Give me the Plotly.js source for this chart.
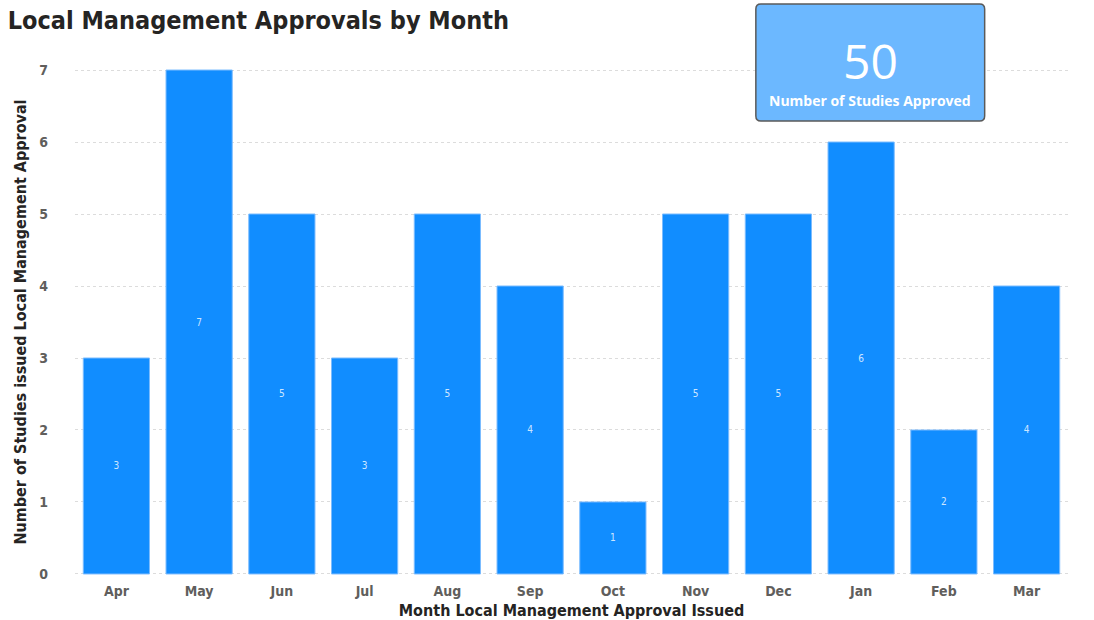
<!DOCTYPE html>
<html>
<head>
<meta charset="utf-8">
<script src="https://cdn.plot.ly/plotly-3.0.1.min.js"></script>
<style>html,body{margin:0;padding:0;background:#fff;}#chart{width:1094px;height:620px;}</style>
</head>
<body>
<div id="chart"></div>
<script>
const months = ["Apr","May","Jun","Jul","Aug","Sep","Oct","Nov","Dec","Jan","Feb","Mar"];
const approvals = [3,7,5,3,5,4,1,5,5,6,2,4];
const chartTitle = "Local Management Approvals by Month";
const xTitle = "Month Local Management Approval Issued";
const yTitle = "Number of Studies issued Local Management Approval";
const cardLabel = "Number of Studies Approved";

const total = approvals.reduce((a,b)=>a+b,0);
const F = "DejaVu Sans Condensed, Liberation Sans Narrow, sans-serif";

// plot area in pixels
const L = 74.6, R = 1068.4, T = 67, B = 577;
const W = R - L, H = B - T;
const px = x => (x - L) / W;
const py = y => (B - y) / H;
const cx0 = 756, cx1 = 985, cy0 = 4, cy1 = 121, r = 5;
function rr(){
  const x0=px(cx0), x1=px(cx1), y0=py(cy1), y1=py(cy0);
  const rx=r/W, ry=r/H;
  return `M ${x0+rx} ${y1} L ${x1-rx} ${y1} Q ${x1} ${y1} ${x1} ${y1-ry} L ${x1} ${y0+ry} Q ${x1} ${y0} ${x1-rx} ${y0} L ${x0+rx} ${y0} Q ${x0} ${y0} ${x0} ${y0+ry} L ${x0} ${y1-ry} Q ${x0} ${y1} ${x0+rx} ${y1} Z`;
}

const trace = {
  type: "bar",
  x: months,
  y: approvals,
  text: approvals.map(String),
  textposition: "inside",
  insidetextanchor: "middle",
  textfont: {color: "rgba(255,255,255,0.8)", size: 10, family: F},
  marker: {color: "#118DFF", line: {color: "#7bbcff", width: 1}},
  hoverinfo: "x+y"
};

const layout = {
  width: 1094, height: 620,
  margin: {l: L, r: 1094 - R, t: T, b: 620 - B},
  paper_bgcolor: "#ffffff", plot_bgcolor: "#ffffff",
  bargap: 0.2,
  showlegend: false,
  font: {family: F},
  title: {text: "<b>" + chartTitle + "</b>", x: 0.007, xanchor: "left", y: 0.968, yanchor: "middle",
          font: {family: F, size: 25, color: "#252423"}},
  xaxis: {
    type: "category",
    tickfont: {family: F, size: 14, color: "#605E5C", weight: "bold"},
    ticks: "", showline: false, showgrid: false, zeroline: false,
    ticklabelstandoff: 4,
    title: {text: "<b>" + xTitle + "</b>", standoff: 8, font: {family: F, size: 16, color: "#252423"}}
  },
  yaxis: {
    range: [-0.042, 7.042], dtick: 1, tick0: 0,
    tickfont: {family: F, size: 14, color: "#605E5C", weight: "bold"},
    ticks: "", showline: false, zeroline: false,
    showgrid: true, gridcolor: "#dcdcdc", griddash: "dot", gridwidth: 1,
    ticklabelstandoff: 26,
    title: {text: "<b>" + yTitle + "</b>", standoff: 8, font: {family: F, size: 16, color: "#252423"}}
  },
  shapes: [{
    type: "path", xref: "paper", yref: "paper", path: rr(),
    fillcolor: "#6CB8FF", line: {color: "#5a5a5a", width: 1.5}, layer: "above"
  }],
  annotations: [
    {xref: "paper", yref: "paper", x: px((cx0+cx1)/2), y: py(60), text: String(total), showarrow: false,
     font: {family: "Open Sans, sans-serif", size: 48, color: "#ffffff"}, xanchor: "center", yanchor: "middle"},
    {xref: "paper", yref: "paper", x: px((cx0+cx1)/2), y: py(100), text: "<b>" + cardLabel + "</b>", showarrow: false,
     font: {family: "Open Sans, sans-serif", size: 14, color: "#ffffff"}, xanchor: "center", yanchor: "middle"}
  ]
};

Plotly.newPlot("chart", [trace], layout, {displayModeBar: false, staticPlot: true});
</script>
</body>
</html>
